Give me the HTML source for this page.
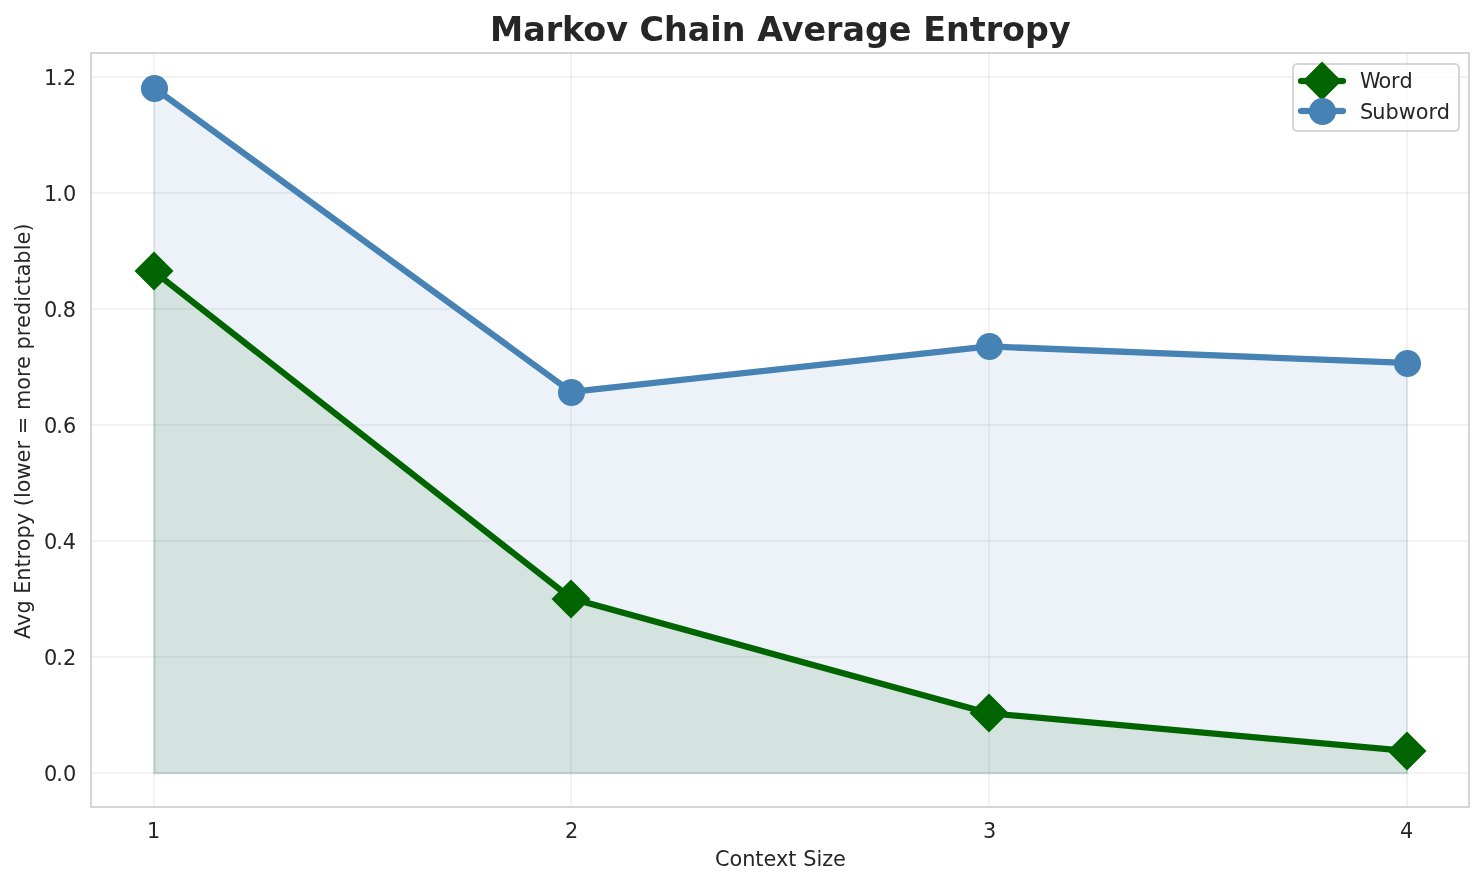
<!DOCTYPE html>
<html lang="en">
<head>
<meta charset="utf-8">
<title>Markov Chain Average Entropy</title>
<style>
html,body{margin:0;padding:0;background:#ffffff;}
body{width:1484px;height:885px;overflow:hidden;}
svg{display:block;}
</style>
</head>
<body>
<svg width="1484" height="885" viewBox="0 0 1484 885">
<rect x="0" y="0" width="1484" height="885" fill="#ffffff"/>
<g fill="#cccccc" fill-opacity="0.25" shape-rendering="crispEdges">
<rect x="153" y="53" width="2" height="754"/>
<rect x="570" y="53" width="2" height="754"/>
<rect x="988" y="53" width="2" height="754"/>
<rect x="1406" y="53" width="2" height="754"/>
<rect x="91" y="76" width="1378" height="2"/>
<rect x="91" y="192" width="1378" height="2"/>
<rect x="91" y="308" width="1378" height="2"/>
<rect x="91" y="424" width="1378" height="2"/>
<rect x="91" y="540" width="1378" height="2"/>
<rect x="91" y="656" width="1378" height="2"/>
<rect x="91" y="772" width="1378" height="2"/>
</g>
<polygon points="154.307,773.330 154.307,271.857 571.908,599.060 989.509,713.762 1407.110,751.415 1407.110,773.330" fill="#006400" fill-opacity="0.1" stroke="#006400" stroke-opacity="0.1" stroke-width="2.0833" stroke-linejoin="miter"/>
<polygon points="154.307,773.330 154.307,88.254 571.908,392.442 989.509,346.933 1407.110,363.455 1407.110,773.330" fill="#4682b4" fill-opacity="0.1" stroke="#4682b4" stroke-opacity="0.1" stroke-width="2.0833" stroke-linejoin="miter"/>
<polyline points="153.807,271.357 571.408,598.560 989.009,713.262 1406.610,750.915" fill="none" stroke="#006400" stroke-width="6.25" stroke-linecap="round" stroke-linejoin="round"/>
<polygon points="154,253 172,271 154,289 136,271" fill="#006400" stroke="#006400" stroke-width="2.0833" stroke-linejoin="miter"/>
<polygon points="571,581 589,599 571,617 553,599" fill="#006400" stroke="#006400" stroke-width="2.0833" stroke-linejoin="miter"/>
<polygon points="989,695 1007,713 989,731 971,713" fill="#006400" stroke="#006400" stroke-width="2.0833" stroke-linejoin="miter"/>
<polygon points="1407,733 1425,751 1407,769 1389,751" fill="#006400" stroke="#006400" stroke-width="2.0833" stroke-linejoin="miter"/>
<polyline points="153.807,87.754 571.408,391.942 989.009,346.433 1406.610,362.955" fill="none" stroke="#4682b4" stroke-width="6.25" stroke-linecap="round" stroke-linejoin="round"/>
<circle cx="154.5" cy="88.5" r="13.54" fill="#4682b4"/>
<circle cx="571.5" cy="392.5" r="13.54" fill="#4682b4"/>
<circle cx="989.5" cy="346.5" r="13.54" fill="#4682b4"/>
<circle cx="1407.5" cy="363.5" r="13.54" fill="#4682b4"/>
<g fill="#cccccc" fill-opacity="0.8333" shape-rendering="crispEdges">
<rect x="90" y="52" width="1380" height="2"/>
<rect x="90" y="806" width="1380" height="2"/>
<rect x="90" y="54" width="2" height="752"/>
<rect x="1468" y="54" width="2" height="752"/>
</g>
<g font-family="'DejaVu Sans', 'Liberation Sans', sans-serif" fill="#262626" font-size="20.8333px">
<text x="146.932" y="837.875">1</text>
<text x="564.908" y="837.875">2</text>
<text x="982.884" y="837.875">3</text>
<text x="1399.985" y="837.875">4</text>
<text x="43.878 56.253 62.878" y="85.468">1.2</text>
<text x="43.878 56.128 62.878" y="201.415">1.0</text>
<text x="43.878 56.128 62.628" y="317.363">0.8</text>
<text x="43.878 56.128 62.878" y="433.310">0.6</text>
<text x="43.878 56.128 62.628" y="549.258">0.4</text>
<text x="43.878 56.253 62.878" y="665.205">0.2</text>
<text x="43.878 56.128 62.878" y="781.153">0.0</text>
<text x="714.958 729.458 742.208 755.333 763.458 775.958 788.333 796.458 803.208 816.458 822.208 833.083" y="866.321">Context Size</text>
<text transform="translate(29.830 638.895) rotate(-90)" x="0 13 25.375 38.625 45.25 58.25 71.5 79.5 87.75 100.5 113.75 126.125 132.75 140.875 146.75 159.375 176.375 189.5 198.125 204.75 222.375 229 249.25 262 270 283 289.375 302.625 311 323.875 337.125 343 354.5 362.625 375.125 388.625 394.5 407.375" y="0">Avg Entropy (lower = more predictable)</text>
<text x="489.94 523.19 545.69 562.065 583.315 606.19 627.94 639.565 664.065 687.815 710.315 721.69 745.44 757.19 781.815 803.44 826.065 842.44 864.94 888.815 911.44 923.19 945.94 969.69 985.69 1002.065 1025.065 1048.94" y="41.328" font-weight="700" font-size="33.3333px">Markov Chain Average Entropy</text>
</g>
<rect x="1293" y="64" width="166" height="67" rx="4.167" ry="4.167" fill="#ffffff" stroke="#cccccc" stroke-width="2.0833" opacity="0.8"/>
<path d="M1301,78 H1343 A3.125,3 0 0 1 1343,84 H1301 A3.125,3 0 0 1 1301,78 Z" fill="#006400"/>
<path d="M1300.5,77 H1343.5 V78 H1300.5 Z M1300.5,84 H1343.5 V85 H1300.5 Z" fill="#006400" fill-opacity="0.13" shape-rendering="crispEdges"/>
<polygon points="1322,63 1340,81 1322,99 1304,81" fill="#006400" stroke="#006400" stroke-width="2.0833" stroke-linejoin="miter"/>
<path d="M1301,108 H1343 A3.125,3 0 0 1 1343,114 H1301 A3.125,3 0 0 1 1301,108 Z" fill="#4682b4"/>
<path d="M1300.5,107 H1343.5 V108 H1300.5 Z M1300.5,114 H1343.5 V115 H1300.5 Z" fill="#4682b4" fill-opacity="0.13" shape-rendering="crispEdges"/>
<circle cx="1322.5" cy="111.5" r="13.54" fill="#4682b4"/>
<g font-family="'DejaVu Sans', 'Liberation Sans', sans-serif" fill="#262626" font-size="20.8333px">
<text x="1359.928 1378.553 1390.928 1399.428" y="88.408">Word</text>
<text x="1359.928 1372.303 1385.428 1398.678 1415.803 1428.553 1436.803" y="118.988">Subword</text>
</g>
</svg>
</body>
</html>
